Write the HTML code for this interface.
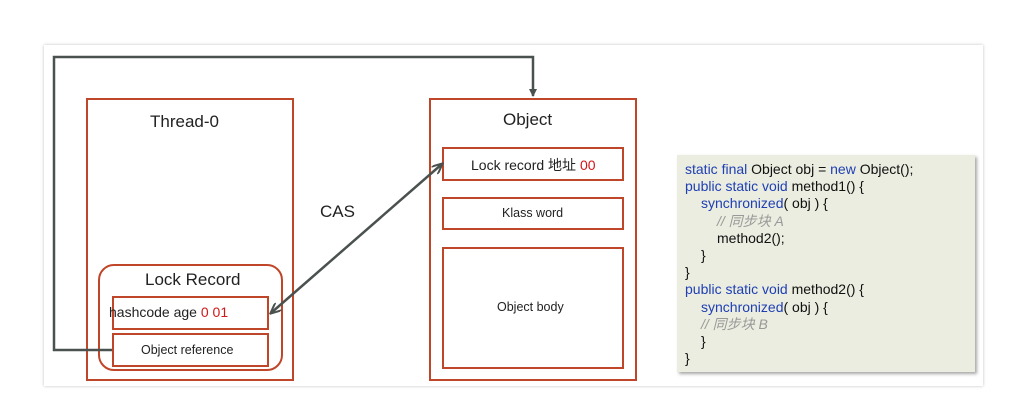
<!DOCTYPE html>
<html><head><meta charset="utf-8"><style>
body{margin:0;width:1012px;height:403px;background:#fff;position:relative;overflow:hidden;font-family:"Liberation Sans","Noto Sans CJK SC",sans-serif}
.panel{position:absolute;left:44px;top:45px;width:939px;height:341px;background:#fff;box-shadow:0 0 3px rgba(0,0,0,.25)}
.b{position:absolute;border:2px solid #c0462a;box-sizing:border-box;background:#fff}
.t{position:absolute;color:#222;white-space:nowrap}
.code{position:absolute;left:677px;top:155px;width:298px;height:217px;background:#eaeddf;box-shadow:2px 2px 3px rgba(0,0,0,.35);font-size:14px;line-height:17.2px;padding:6px 0 0 8px;box-sizing:border-box;color:#111}
.code div{white-space:nowrap}
.i1{padding-left:16px}.i2{padding-left:32px}
.k{color:#1f3fb5}.c{color:#999;font-style:italic}
.r{color:#d01818}
</style></head><body>
<div class="panel"></div>
<div class="b" style="left:86px;top:98px;width:208px;height:283px"></div>
<div class="t" style="left:150px;top:112px;font-size:17px">Thread-0</div>
<div class="b" style="left:98px;top:264px;width:185px;height:107px;border-radius:16px"></div>
<div class="t" style="left:145px;top:270px;font-size:17px">Lock Record</div>
<div class="b" style="left:112px;top:296px;width:157px;height:34px"></div>
<div class="t" style="left:109px;top:304px;font-size:14px">hashcode age <span class="r">0 01</span></div>
<div class="b" style="left:112px;top:333px;width:157px;height:34px"></div>
<div class="t" style="left:141px;top:343px;font-size:12.5px">Object reference</div>

<div class="b" style="left:429px;top:98px;width:208px;height:283px"></div>
<div class="t" style="left:503px;top:110px;font-size:17px">Object</div>
<div class="b" style="left:442px;top:147px;width:182px;height:34px"></div>
<div class="t" style="left:471px;top:155px;font-size:14px">Lock record 地址 <span class="r">00</span></div>
<div class="b" style="left:442px;top:197px;width:182px;height:33px"></div>
<div class="t" style="left:502px;top:206px;font-size:12.5px">Klass word</div>
<div class="b" style="left:442px;top:247px;width:182px;height:122px"></div>
<div class="t" style="left:497px;top:300px;font-size:12.5px">Object body</div>
<div class="t" style="left:320px;top:202px;font-size:17px">CAS</div>

<svg style="position:absolute;left:0;top:0" width="1012" height="403">
<defs><marker id="a" markerWidth="8" markerHeight="8" refX="7" refY="4" orient="auto" markerUnits="userSpaceOnUse"><path d="M0,0 L8,4 L0,8 z" fill="#4a5250"/></marker>
<marker id="a2" markerWidth="12" markerHeight="10" refX="10" refY="5" orient="auto-start-reverse" markerUnits="userSpaceOnUse"><path d="M0,0 L11,5 L0,10" fill="none" stroke="#4a5250" stroke-width="2"/></marker></defs>
<polyline points="112,350 54,350 54,57 533,57 533,96" fill="none" stroke="#4a5250" stroke-width="2.5" marker-end="url(#a)"/>
<line x1="271" y1="313" x2="442" y2="164" stroke="#4a5250" stroke-width="2.5" marker-end="url(#a2)" marker-start="url(#a2)"/>
</svg>

<div class="code">
<div><span class="k">static final</span> Object obj = <span class="k">new</span> Object();</div>
<div><span class="k">public static void</span> method1() {</div>
<div class="i1"><span class="k">synchronized</span>( obj ) {</div>
<div class="i2"><span class="c">// 同步块 A</span></div>
<div class="i2">method2();</div>
<div class="i1">}</div>
<div>}</div>
<div><span class="k">public static void</span> method2() {</div>
<div class="i1"><span class="k">synchronized</span>( obj ) {</div>
<div class="i1"><span class="c">// 同步块 B</span></div>
<div class="i1">}</div>
<div>}</div>
</div>
</body></html>
